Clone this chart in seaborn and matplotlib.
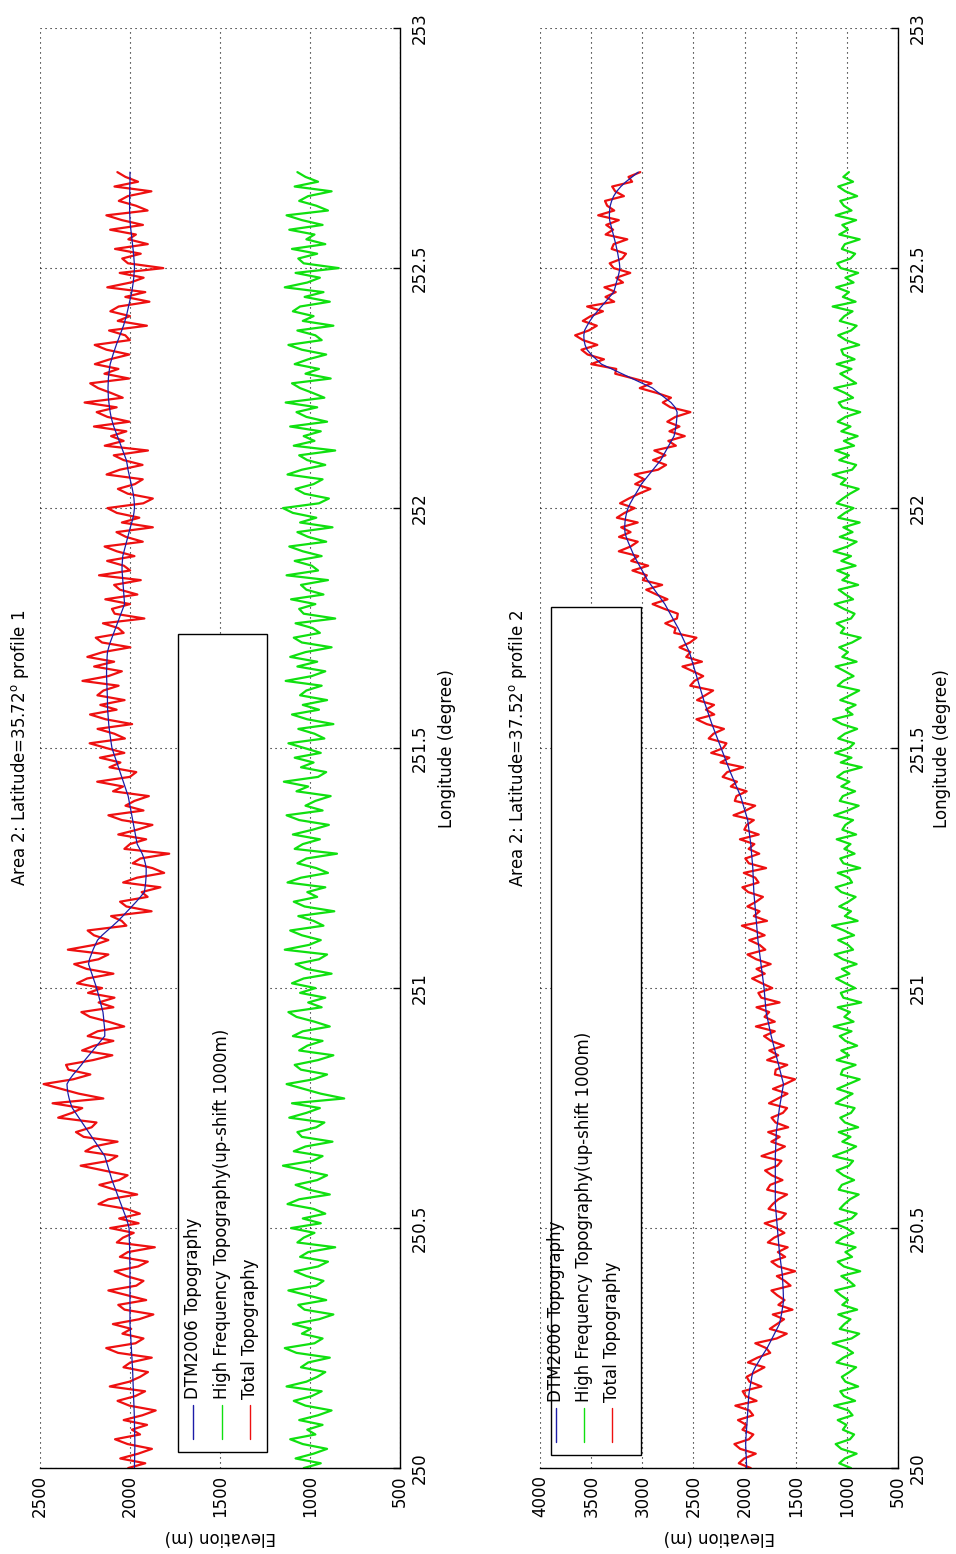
import matplotlib.pyplot as plt
import numpy as np
import pandas as pd
import seaborn as sns
from matplotlib.patches import Rectangle

# longitude sampling of both profiles (deg), 0.01 deg steps from 250.00 to 252.70
LON = np.round(np.arange(250.0, 252.7001, 0.01), 2)
SHIFT = 1000  # high frequency part is drawn shifted up by 1000 m

# profile 1 (lat 35.72) - DTM2006 topography (m)
dtm_p1 = [
    1975, 1975, 1974, 1974, 1973, 1973, 1973, 1974, 1974, 1975,
    1975, 1976, 1977, 1978, 1979, 1980, 1981, 1982, 1983, 1984,
    1985, 1986, 1988, 1989, 1991, 1992, 1994, 1995, 1997, 1998,
    2000, 2000, 2000, 2000, 2000, 2000, 2000, 2000, 2000, 2000,
    2000, 2000, 2000, 2001, 2001, 2002, 2002, 2003, 2004, 2004,
    2005, 2012, 2020, 2030, 2040, 2050, 2060, 2070, 2080, 2090,
    2100, 2108, 2116, 2124, 2132, 2140, 2158, 2176, 2194, 2212,
    2230, 2248, 2266, 2284, 2302, 2320, 2330, 2338, 2344, 2348,
    2350, 2335, 2315, 2292, 2270, 2250, 2228, 2206, 2184, 2162,
    2140, 2140, 2142, 2145, 2147, 2150, 2157, 2164, 2171, 2178,
    2185, 2194, 2203, 2212, 2221, 2230, 2225, 2215, 2205, 2193,
    2180, 2155, 2125, 2095, 2066, 2040, 2015, 1990, 1965, 1942,
    1920, 1916, 1913, 1911, 1910, 1910, 1915, 1922, 1932, 1946,
    1960, 1965, 1970, 1975, 1980, 1985, 1990, 1995, 2000, 2005,
    2010, 2019, 2028, 2037, 2046, 2055, 2064, 2073, 2082, 2091,
    2100, 2104, 2108, 2112, 2115, 2118, 2120, 2122, 2124, 2125,
    2125, 2126, 2127, 2128, 2129, 2130, 2130, 2129, 2128, 2127,
    2125, 2118, 2110, 2100, 2090, 2080, 2070, 2060, 2050, 2040,
    2030, 2032, 2034, 2036, 2038, 2040, 2042, 2044, 2044, 2042,
    2040, 2033, 2026, 2019, 2012, 2005, 1998, 1990, 1983, 1978,
    1975, 1976, 1978, 1982, 1987, 1993, 1999, 2005, 2011, 2015,
    2020, 2030, 2040, 2050, 2060, 2070, 2080, 2090, 2098, 2105,
    2110, 2114, 2117, 2120, 2121, 2122, 2121, 2120, 2117, 2114,
    2110, 2102, 2094, 2085, 2076, 2066, 2056, 2046, 2036, 2028,
    2020, 2014, 2008, 2002, 1996, 1990, 1986, 1982, 1979, 1977,
    1975, 1976, 1978, 1980, 1983, 1986, 1989, 1992, 1995, 1998,
    2000, 2001, 2002, 2002, 2002, 2002, 2001, 2001, 2000, 2000,
    2000,
]

# profile 1 - high frequency topography (m, before the shift)
hf_p1 = [
    35, -60, 80, -20, -95, 40, 110, -30, 15, -70,
    60, -45, -120, 25, 90, -10, -65, 130, 20, -40,
    -85, 50, 10, -110, 75, 140, -25, -70, 45, -5,
    95, -50, -130, 30, 65, -90, 15, 120, -35, -75,
    20, 85, -45, -100, 55, 10, -140, 70, 35, -25,
    105, -60, 40, -85, -20, 125, 60, -110, 5, 80,
    -40, -95, 30, 150, -15, -70, 90, 25, -125, 45,
    70, -35, -80, 115, 20, -55, 100, -190, -60, 35,
    130, -20, -95, 50, 85, -45, -130, 60, 15, -70,
    95, 40, -110, -25, 75, 120, -65, 10, -85, 55,
    -30, 100, 35, -120, 20, 80, -50, -95, 140, 5,
    -60, 45, 110, -75, -20, 65, -135, 30, 90, -40,
    15, -85, 125, 50, -100, -35, 70, 20, -150, 85,
    40, -55, 95, -15, -105, 60, 130, -70, 25, -30,
    -115, 75, 10, 145, -45, -90, 50, -20, 85, -60,
    30, 120, -80, -25, 65, -130, 15, 100, -50, 40,
    -95, 55, 20, -65, 135, -10, -85, 70, -40, 110,
    25, -120, 45, 90, -55, -15, 80, -140, 35, 60,
    -30, 105, -75, 20, 50, -100, 130, -45, -10, 85,
    -65, 40, 115, -90, 10, 70, -125, 55, -35, 95,
    150, -50, -105, 30, 80, -20, -70, 125, 45, -85,
    15, 60, -140, 90, -25, 35, -60, 110, -95, 20,
    75, -40, 135, -80, -15, 55, 100, -115, 25, -50,
    85, 10, -90, 45, 120, -65, -30, 70, -130, 40,
    -20, 95, 55, -110, 30, -75, 140, 15, -55, 80,
    -160, 35, 65, -40, 100, -85, 20, -25, 115, -70,
    45, 130, -100, -35, 60, 10, -120, 85, -45, 25,
    70,
]

# profile 2 (lat 37.52) - DTM2006 topography (m)
dtm_p2 = [
    1980, 1982, 1984, 1986, 1988, 1990, 1988, 1985, 1981, 1978,
    1975, 1972, 1969, 1966, 1963, 1960, 1954, 1946, 1938, 1930,
    1920, 1896, 1868, 1840, 1810, 1780, 1756, 1732, 1708, 1684,
    1660, 1650, 1640, 1632, 1625, 1620, 1621, 1623, 1626, 1628,
    1630, 1636, 1642, 1648, 1654, 1660, 1664, 1668, 1672, 1676,
    1680, 1684, 1688, 1692, 1696, 1700, 1700, 1700, 1700, 1700,
    1700, 1700, 1700, 1700, 1700, 1700, 1698, 1696, 1694, 1692,
    1690, 1684, 1678, 1672, 1666, 1660, 1652, 1644, 1636, 1628,
    1620, 1632, 1644, 1656, 1668, 1680, 1692, 1704, 1716, 1728,
    1740, 1750, 1760, 1770, 1780, 1790, 1794, 1798, 1802, 1806,
    1810, 1816, 1822, 1828, 1834, 1840, 1846, 1852, 1858, 1864,
    1870, 1874, 1878, 1882, 1886, 1890, 1894, 1898, 1902, 1906,
    1910, 1912, 1914, 1916, 1918, 1920, 1924, 1928, 1932, 1936,
    1940, 1946, 1952, 1958, 1964, 1970, 1984, 1998, 2012, 2026,
    2040, 2060, 2080, 2100, 2120, 2140, 2158, 2176, 2194, 2212,
    2230, 2248, 2266, 2284, 2302, 2320, 2336, 2352, 2368, 2384,
    2400, 2414, 2428, 2442, 2456, 2470, 2484, 2498, 2512, 2526,
    2540, 2562, 2584, 2606, 2628, 2650, 2676, 2702, 2728, 2754,
    2780, 2814, 2848, 2882, 2916, 2950, 2976, 3002, 3028, 3054,
    3080, 3100, 3120, 3140, 3158, 3170, 3172, 3170, 3164, 3154,
    3140, 3118, 3092, 3064, 3036, 3010, 2972, 2934, 2896, 2858,
    2820, 2794, 2768, 2742, 2716, 2690, 2680, 2672, 2666, 2662,
    2660, 2680, 2720, 2780, 2840, 2900, 3000, 3100, 3200, 3300,
    3400, 3450, 3500, 3540, 3560, 3570, 3572, 3565, 3540, 3512,
    3480, 3440, 3400, 3360, 3320, 3280, 3266, 3254, 3240, 3228,
    3220, 3224, 3232, 3240, 3250, 3260, 3272, 3284, 3296, 3308,
    3320, 3322, 3320, 3314, 3300, 3280, 3250, 3210, 3160, 3100,
    3040,
]

# profile 2 - high frequency topography (m, before the shift)
hf_p2 = [
    -40, 75, 20, -95, 55, 110, -30, -70, 40, 5,
    90, -55, -15, 125, -80, 30, 65, -110, 15, 50,
    -25, -90, 100, 35, -60, 10, 140, -45, -120, 70,
    25, -35, 85, -100, 45, -10, 60, 115, -75, -20,
    55, -130, 30, 90, -50, 15, -85, 105, 40, -65,
    10, 120, -45, -95, 70, 25, -30, -115, 80, 50,
    -70, 35, 100, -20, -60, 135, 5, -90, 45, -35,
    80, -110, 20, 65, -40, -75, 110, 30, -55, 95,
    -15, -125, 60, 40, -85, 100, -20, 55, -100, 15,
    70, -45, 130, -65, 25, -30, 90, -140, 35, 60,
    -80, 15, 105, -25, 50, -95, 40, 120, -60, -10,
    85, -70, 30, 145, -105, 20, -40, 75, -15, -85,
    55, 110, -50, -20, 90, -130, 35, 65, -75, 25,
    -35, 100, -90, 45, 15, -60, 125, -10, -115, 70,
    40, -80, 55, -25, 95, 30, -145, 60, -45, 115,
    -20, -70, 85, 20, -100, 50, 135, -55, 10, -85,
    65, -30, -120, 90, 35, -65, 20, 110, -95, 45,
    -10, 75, -50, -135, 60, 25, 100, -40, -75, 30,
    120, -60, 15, 80, -110, 45, -20, 95, -85, 55,
    -40, 130, -5, -95, 70, -55, 35, -125, 85, 20,
    -65, 100, 40, -30, -115, 60, 10, 140, -50, -90,
    75, -20, 115, -70, 30, -105, 55, -35, 90, 15,
    -130, 45, 80, -60, 20, 125, -90, -15, 65, -45,
    100, -75, 35, 55, -120, 10, 85, -40, -95, 70,
    25, -55, 140, -85, 40, -20, 105, -65, 15, -110,
    60, 95, -35, -80, 50, 20, -125, 75, -10, 45,
    -90, 110, -45, 30, 65, -100, 15, 85, -60, 35,
    -20,
]

titles = ['Area 2: Latitude=35.72$^\\mathrm{o}$ profile 1',
          'Area 2: Latitude=37.52$^\\mathrm{o}$ profile 2']
elev_tops = [2500, 4000]
lon_ticks = [250, 250.5, 251, 251.5, 252, 252.5, 253]
lon_ticklabels = ['250', '250.5', '251', '251.5', '252', '252.5', '253']
legend_labels = ['DTM2006 Topography',
                 'High Frequency Topography(up-shift 1000m)',
                 'Total Topography']

BLUE = '#1c1ca8'
GREEN = '#10e010'
RED = '#ee1010'
FS = 12


def draw_legend(ax, box, line_x):
    x0, x1, y0, y1 = box
    ax.add_patch(Rectangle((x0, y0), x1 - x0, y1 - y0, transform=ax.transAxes,
                           facecolor='white', edgecolor='black', lw=1.0, zorder=5))
    for lx, lab, col in zip(line_x, legend_labels, [BLUE, GREEN, RED]):
        ax.plot([lx, lx], [y0 + 0.009, y0 + 0.033], transform=ax.transAxes,
                color=col, lw=1.0, zorder=6)
        ax.text(lx, y0 + 0.037, lab, transform=ax.transAxes, rotation=90,
                rotation_mode='anchor', ha='left', va='center', fontsize=FS,
                color='black', zorder=6)


def draw_profile(ax, dtm, hf, top, title, title_x, lon_label_x, box, line_x):
    df = pd.DataFrame({'lon': LON,
                       'dtm': dtm,
                       'hf': np.array(hf) + SHIFT,
                       'total': np.array(dtm) + np.array(hf)})
    sns.lineplot(data=df, x='total', y='lon', sort=False, estimator=None,
                 color=RED, lw=1.6, ax=ax)
    sns.lineplot(data=df, x='hf', y='lon', sort=False, estimator=None,
                 color=GREEN, lw=1.6, ax=ax)
    sns.lineplot(data=df, x='dtm', y='lon', sort=False, estimator=None,
                 color=BLUE, lw=0.9, ax=ax)

    ax.set_xlim(top, 500)
    ax.set_ylim(250, 253)
    ax.set_xticks(np.arange(500, top + 1, 500))
    ax.set_yticks(lon_ticks)
    ax.set_yticklabels(lon_ticklabels)
    ax.yaxis.tick_right()
    ax.tick_params(direction='in', length=5, width=1, labelsize=FS,
                   color='black', labelcolor='black')
    ax.tick_params(axis='x', labelrotation=90, pad=5)
    ax.tick_params(axis='y', labelrotation=90, pad=8)
    for t in ax.get_yticklabels():
        t.set_va('center')

    ax.grid(True, color='black', ls=(0, (1, 3.5)), lw=0.8)
    for s in ['top', 'left']:
        ax.spines[s].set_visible(False)
    for s in ['bottom', 'right']:
        ax.spines[s].set_visible(True)
        ax.spines[s].set_color('black')
        ax.spines[s].set_linewidth(1.0)

    ax.set_xlabel('Elevation (m)', fontsize=FS, color='black')
    ax.xaxis.label.set_rotation(180)
    ax.xaxis.label.set_rotation_mode('default')
    ax.xaxis.label.set_va('center')
    ax.xaxis.set_label_coords(0.5, -0.048)

    ax.set_ylabel('Longitude (degree)', fontsize=FS, color='black')
    ax.yaxis.label.set_rotation(90)
    ax.yaxis.label.set_rotation_mode('default')
    ax.yaxis.label.set_ha('center')
    ax.yaxis.label.set_va('center')
    ax.yaxis.set_label_coords(lon_label_x, 0.5)

    ax.set_title(title, x=title_x, y=0.5, pad=0, rotation=90, ha='center',
                 va='center', fontsize=FS, color='black')
    draw_legend(ax, box, line_x)


sns.set_style('white')
plt.rcParams['font.family'] = ['DejaVu Sans']

fig = plt.figure(figsize=(9.56, 15.54), dpi=100)
ax1 = fig.add_axes([0.0418, 0.0553, 0.3766, 0.9266])
ax2 = fig.add_axes([0.5649, 0.0553, 0.3745, 0.9266])

draw_profile(ax1, dtm_p1, hf_p1, elev_tops[0], titles[0], -0.056, 1.131,
             (0.383, 0.631, 0.011, 0.579), [0.425, 0.506, 0.583])
draw_profile(ax2, dtm_p2, hf_p2, elev_tops[1], titles[1], -0.061, 1.123,
             (0.031, 0.282, 0.009, 0.598), [0.045, 0.123, 0.201])

fig.savefig('out.png', dpi=100, facecolor='white')
